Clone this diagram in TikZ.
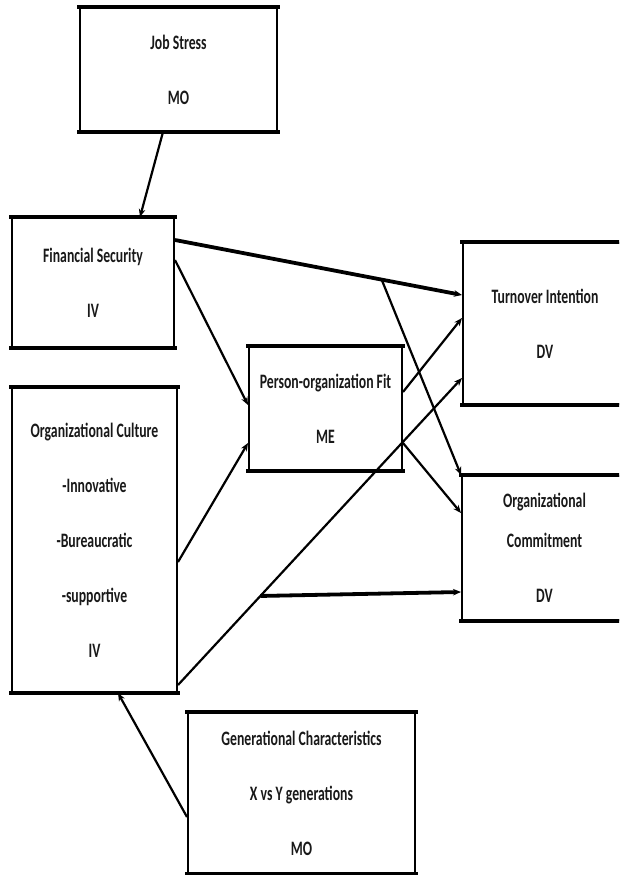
\documentclass[tikz,border=0pt]{standalone}
\usepackage{fontspec}
\setmainfont[FakeStretch=0.67]{Carlito}
\usetikzlibrary{arrows.meta}
\providecommand{\modelSideWidth}{2pt}
\providecommand{\modelEdgeWidth}{4.5pt}
\providecommand{\modelTextColor}{black!90}
\tikzset{
  varbox/.style={draw, line width=\modelSideWidth, rectangle, align=center,
    inner sep=2pt, text=\modelTextColor,
    font=\fontsize{20.5}{55}\selectfont\bfseries,
    append after command={
      (\tikzlastnode.north west) edge[line width=\modelEdgeWidth, line cap=rect] (\tikzlastnode.north east)
      (\tikzlastnode.south west) edge[line width=\modelEdgeWidth, line cap=rect] (\tikzlastnode.south east)}},
  link/.style={line width=2.2pt, -{Stealth[length=8pt,width=6.5pt]}},
  boldlink/.style={link, line width=3.8pt}
}
\begin{document}
\begin{tikzpicture}[x=1pt, y=-1pt]
% Page frame, same size as the original figure
\useasboundingbox (0,0) rectangle (619,875);
\clip (0,0) rectangle (619,875);
% Variable boxes
\node[varbox, minimum width=197pt, minimum height=123pt] (js) at (178.5,69.5) {Job Stress\\MO};
\node[varbox, minimum width=162pt, minimum height=129pt] (fs) at (93,282.5) {Financial Security\\IV};
\node[varbox, minimum width=165pt, minimum height=304pt] (oc) at (94.5,540)
  {Organizational Culture\\-Innovative\\-Bureaucratic\\-supportive\\IV};
\node[varbox, minimum width=153pt, minimum height=123pt] (po) at (325.5,408.5) {Person-organization Fit\\ME};
\node[varbox, minimum width=164pt, minimum height=161pt] (ti) at (545,323.5) {Turnover Intention\\DV};
\node[varbox, minimum width=165pt, minimum height=144pt] (om) at (544.5,548)
  {Organizational\\[-15pt]Commitment\\DV};
\node[varbox, minimum width=227pt, minimum height=160pt] (gc) at (301.5,793)
  {Generational Characteristics\\X vs Y generations\\MO};
% Moderators
\draw[link] ([xshift=-15.5pt]js.south) -- ([xshift=47pt]fs.north);
\draw[link] ([yshift=-24pt]gc.west) -- ([xshift=23.5pt]oc.south);
% Independent variables
\draw[boldlink] ([yshift=42.5pt]fs.east) -- coordinate[pos=0.72] (fsbr) ([yshift=28.5pt]ti.west);
\draw[link] (fsbr) -- (om.north west);
\draw[link] ([yshift=22.5pt]fs.east) -- ([yshift=3.5pt]po.west);
\draw[link] ([yshift=-22pt]oc.east) -- ([yshift=-34.5pt]po.west);
\draw[link] ([yshift=8pt]oc.south east) -- coordinate[pos=0.29] (ocbr) ([yshift=-54.5pt]ti.west);
\draw[boldlink] (ocbr) -- ([yshift=-44pt]om.west);
% Mediator
\draw[link] ([yshift=16.5pt]po.east) -- ([yshift=5.5pt]ti.west);
\draw[link] ([yshift=-34.5pt]po.east) -- ([yshift=35pt]om.west);
\end{tikzpicture}
\end{document}
